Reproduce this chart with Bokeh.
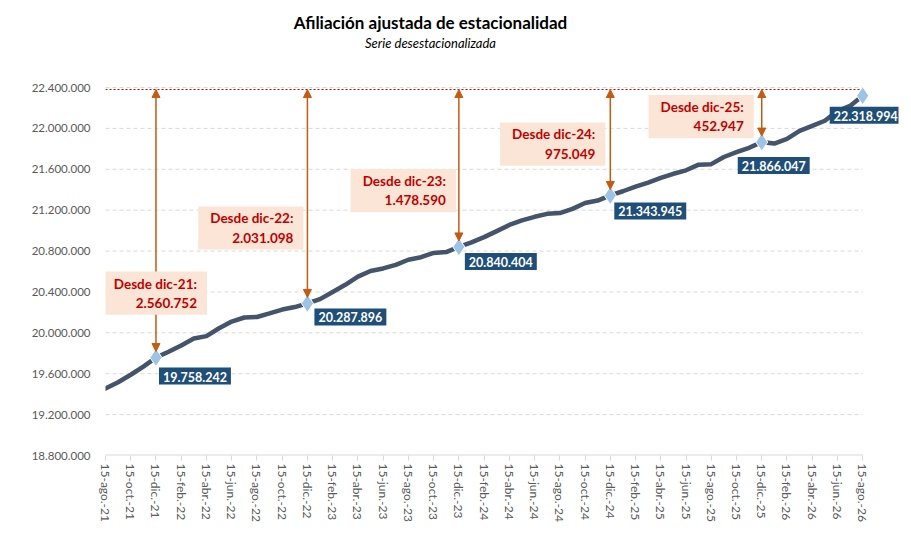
from bokeh.plotting import figure
from bokeh.models import Range1d, FixedTicker, Label, Arrow, NormalHead, ColumnDataSource
from bokeh.embed import file_html
from bokeh.resources import INLINE

# ---------------- data ----------------
month_names = ["ago", "sep", "oct", "nov", "dic", "ene", "feb", "mar", "abr", "may", "jun", "jul"]
start_year = 21
n_months = 61
month_labels = []
for k in range(n_months):
    m = month_names[k % 12]
    yr = start_year + (k + 7) // 12
    month_labels.append(f"{m}-{yr}")

affiliates = [
    19455000, 19517000, 19590000, 19670000, 19758242, 19815000, 19876000, 19944000, 19968000, 20045000,
    20110000, 20150000, 20155000, 20190000, 20228000, 20252000, 20287896, 20330000, 20400000, 20470000,
    20550000, 20605000, 20630000, 20665000, 20715000, 20740000, 20782000, 20790000, 20840404, 20885000,
    20936000, 20995000, 21055000, 21100000, 21135000, 21164000, 21172000, 21213000, 21270000, 21294000,
    21343945, 21385000, 21430000, 21470000, 21515000, 21556000, 21590000, 21645000, 21650000, 21720000,
    21767000, 21810000, 21866047, 21852000, 21897000, 21975000, 22025000, 22075000, 22170000, 22220000,
    22318994,
]
assert len(affiliates) == n_months

y_ticks = [18800000, 19200000, 19600000, 20000000, 20400000, 20800000, 21200000, 21600000, 22000000, 22400000]
y_tick_labels = ["18.800.000", "19.200.000", "19.600.000", "20.000.000", "20.400.000",
                 "20.800.000", "21.200.000", "21.600.000", "22.000.000", "22.400.000"]
ref_top = 22380000

title_text = "Afiliación ajustada de estacionalidad"
subtitle_text = "Serie desestacionalizada"


def fmt(v):
    return f"{v:,}".replace(",", ".")


x_idx = list(range(n_months))
dec_idx = [i for i, lab in enumerate(month_labels) if lab.startswith("dic")]
marker_idx = dec_idx + [n_months - 1]
last_val = affiliates[-1]

# ---------------- layout / style ----------------
W, H = 905, 550
AX_LEFT, AX_TOP, AX_BOTTOM = 105, 87, 455      # page px of x=0, y=22.4M, y=18.8M
px_per_month = 12.62
FRAME_TOP = 5
FRAME_RIGHT = 898
data_per_px = (y_ticks[-1] - y_ticks[0]) / (AX_BOTTOM - AX_TOP)
Y_TOP = y_ticks[-1] + (AX_TOP - FRAME_TOP) * data_per_px
X_MAX = (FRAME_RIGHT - AX_LEFT) / px_per_month

FONT = "Lato"
LINE_C = "#44546A"
MARK_C = "#9DC3E6"
ARROW_C = "#C55A11"
NOTE_TXT = "#C00000"
NOTE_BG = "#FBE5D6"
VAL_BG = "#1F4E79"
GRID_C = "#D9D9D9"
TICK_TXT = "#595959"

p = figure(width=W, height=H, output_backend="svg", toolbar_location=None,
           x_range=Range1d(0, X_MAX), y_range=Range1d(y_ticks[0], Y_TOP),
           min_border_left=AX_LEFT, min_border_right=W - FRAME_RIGHT,
           min_border_top=FRAME_TOP, min_border_bottom=H - AX_BOTTOM)
p.outline_line_color = None
p.background_fill_color = "white"
p.border_fill_color = "white"

# axes
p.yaxis.ticker = FixedTicker(ticks=y_ticks)
p.yaxis.major_label_overrides = {t: l for t, l in zip(y_ticks, y_tick_labels)}
p.yaxis.axis_line_color = None
p.yaxis.major_tick_line_color = None
p.yaxis.minor_tick_line_color = None
p.yaxis.major_label_text_color = TICK_TXT
p.yaxis.major_label_text_font = FONT
p.yaxis.major_label_text_font_size = "11.5px"
p.yaxis.major_label_standoff = 9

x_ticks = x_idx[::2]
p.xaxis.ticker = FixedTicker(ticks=x_ticks)
p.xaxis.major_label_overrides = {i: "15-" + month_labels[i].replace("-", ".-") for i in x_ticks}
p.xaxis.major_label_orientation = "vertical"
p.xaxis.axis_line_color = None
p.xaxis.major_tick_line_color = GRID_C
p.xaxis.major_tick_out = 5
p.xaxis.major_tick_in = 0
p.xaxis.minor_tick_line_color = None
p.xaxis.major_label_text_color = TICK_TXT
p.xaxis.major_label_text_font = FONT
p.xaxis.major_label_text_font_size = "12px"
p.xaxis.major_label_standoff = 3

p.xgrid.grid_line_color = None
p.ygrid.grid_line_color = None

# gridlines only across the data span
gx0, gx1 = x_idx[0], x_idx[-1]
p.segment(x0=[gx0] * (len(y_ticks) - 1), y0=y_ticks[1:], x1=[gx1] * (len(y_ticks) - 1), y1=y_ticks[1:],
          line_color=GRID_C, line_dash="4 3", line_width=1)
# x axis line
p.segment(x0=[gx0], y0=[y_ticks[0]], x1=[gx1], y1=[y_ticks[0]], line_color=GRID_C, line_width=2)

# reference dotted line at top
p.segment(x0=[gx0], y0=[ref_top], x1=[gx1], y1=[ref_top],
          line_color=NOTE_TXT, line_dash="2 2", line_width=1)

# series line
p.line(x_idx, affiliates, line_color=LINE_C, line_width=4.5, line_join="round", line_cap="round")

# arrows
for i in marker_idx[:-1]:
    v = affiliates[i]
    p.add_layout(Arrow(x_start=i, y_start=ref_top, x_end=i, y_end=v + 6 * data_per_px,
                       line_color=ARROW_C, line_width=1.5,
                       start=NormalHead(size=8, fill_color=ARROW_C, line_color=ARROW_C),
                       end=NormalHead(size=8, fill_color=ARROW_C, line_color=ARROW_C)))

# markers
msrc = ColumnDataSource(dict(x=marker_idx, y=[affiliates[i] for i in marker_idx]))
p.scatter("x", "y", source=msrc, marker="diamond", size=18, fill_color=MARK_C,
          line_color="white", line_width=1)

# notes (box right edge / top relative to marker, px)
note_dx = [51, -4, -3, -5, -8]
note_dy = [-86, -97, -78, -73, -47]
for k, i in enumerate(dec_idx):
    v = affiliates[i]
    txt = f"Desde {month_labels[i]}:\n{fmt(last_val - v)}"
    p.add_layout(Label(x=i, y=v, text=txt, text_align="right", text_baseline="top",
                       x_offset=note_dx[k], y_offset=-note_dy[k],
                       text_color=NOTE_TXT, text_font=FONT, text_font_style="bold",
                       text_font_size="13.5px", text_line_height=1.2,
                       background_fill_color=NOTE_BG,
                       padding=dict(left=12, right=10, top=4, bottom=4)))

# value labels (box left edge / top relative to marker, px)
val_dx = [3, 7, 6, 4, -24, -33]
val_dy = [10, 5, 6, 7, 15, 11]
for k, i in enumerate(marker_idx):
    v = affiliates[i]
    p.add_layout(Label(x=i, y=v, text=fmt(v), text_align="left", text_baseline="top",
                       x_offset=val_dx[k], y_offset=-val_dy[k],
                       text_color="white", text_font=FONT, text_font_style="bold",
                       text_font_size="12.5px",
                       background_fill_color=VAL_BG,
                       padding=dict(left=4, right=4, top=4, bottom=3)))

# titles (screen units from frame bottom-left)
title_cx = 430
p.add_layout(Label(x=title_cx - AX_LEFT, y=AX_BOTTOM - 22, x_units="screen", y_units="screen",
                   text=title_text, text_align="center", text_baseline="middle",
                   text_font=FONT, text_font_style="bold", text_font_size="17px", text_color="black"))
p.add_layout(Label(x=title_cx - AX_LEFT, y=AX_BOTTOM - 42, x_units="screen", y_units="screen",
                   text=subtitle_text, text_align="center", text_baseline="middle",
                   text_font=FONT, text_font_style="italic", text_font_size="13px", text_color="black"))

open("out.html", "w").write(file_html(p, INLINE))
